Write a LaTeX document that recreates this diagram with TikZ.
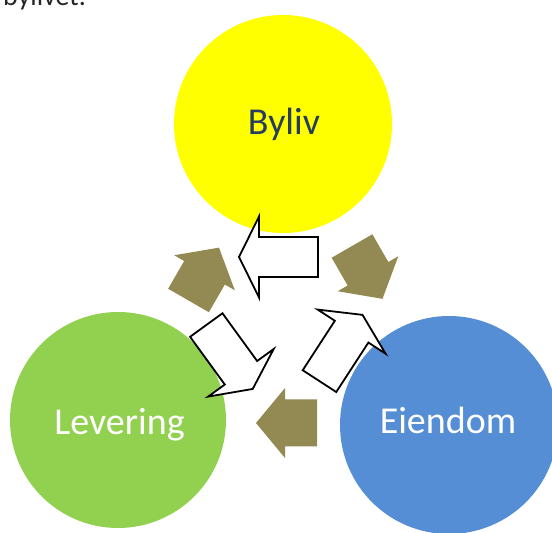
\documentclass[tikz,border=0pt]{standalone}
\usepackage{fontspec}
\setmainfont{Carlito}
\usepackage{tikz}
\definecolor{bylivyellow}{RGB}{255,255,0}
\definecolor{leveringgreen}{RGB}{146,208,80}
\definecolor{eiendomblue}{RGB}{85,142,213}
\definecolor{olivetan}{RGB}{147,137,83}
\definecolor{navytext}{RGB}{38,60,96}
\newcommand{\drawwhitearrow}[3]{
	\draw[whitearrow, shift={(#1,#2)}, rotate=#3]
		(-39.5,-20) -- (19.5,-20) -- (19.5,-40.5) -- (39.5,0)
		-- (19.5,40.5) -- (19.5,20) -- (-39.5,20) -- cycle;
}
\newcommand{\drawolivearrow}[3]{
	\fill[olivearrow, shift={(#1,#2)}, rotate=#3]
		(-30,-23.5) -- (2,-23.5) -- (2,-35) -- (31,0)
		-- (2,35) -- (2,23.5) -- (-30,23.5) -- cycle;
}

\begin{document}
\begin{tikzpicture}[x=1pt, y=1pt,
		bubble/.style={circle, inner sep=0pt, minimum size=#1},
		bubbletext/.style={anchor=base, font=\fontsize{38}{40}\selectfont},
		whitearrow/.style={draw=black, fill=white, line width=1.8pt, line join=miter},
		olivearrow/.style={fill=olivetan}]
		\useasboundingbox (0,0) rectangle (552,533);
		\clip (0,0) rectangle (552,533);

		% cut text at the top
		\node[anchor=base west, font=\fontsize{28}{30}\selectfont, text=black!85, inner sep=0pt]
			(bylivet) at (3,527) {bylivet.};

		% circles
		\node[bubble=218pt, fill=bylivyellow] (byliv) at (283,409) {};
		\node[bubble=216pt, fill=leveringgreen] (levering) at (118,113) {};
		\node[bubble=218pt, fill=eiendomblue] (eiendom) at (449,108) {};

		\node[bubbletext, text=navytext] (bylivlabel) at (284,398) {Byliv};
		\node[bubbletext, text=white] (leveringlabel) at (119.5,98) {Levering};
		\node[bubbletext, text=white] (eiendomlabel) at (448,99) {Eiendom};

		% filled arrows (clockwise)
		\drawolivearrow{203.5}{258.5}{60}
		\drawolivearrow{367}{261}{-60}
		\drawolivearrow{287}{110}{180}

		% outlined arrows (counter clockwise)
		\drawwhitearrow{278.5}{276}{180}
		\drawwhitearrow{229.5}{176}{-54}
		\drawwhitearrow{341}{185}{57}
\end{tikzpicture}
\end{document}
